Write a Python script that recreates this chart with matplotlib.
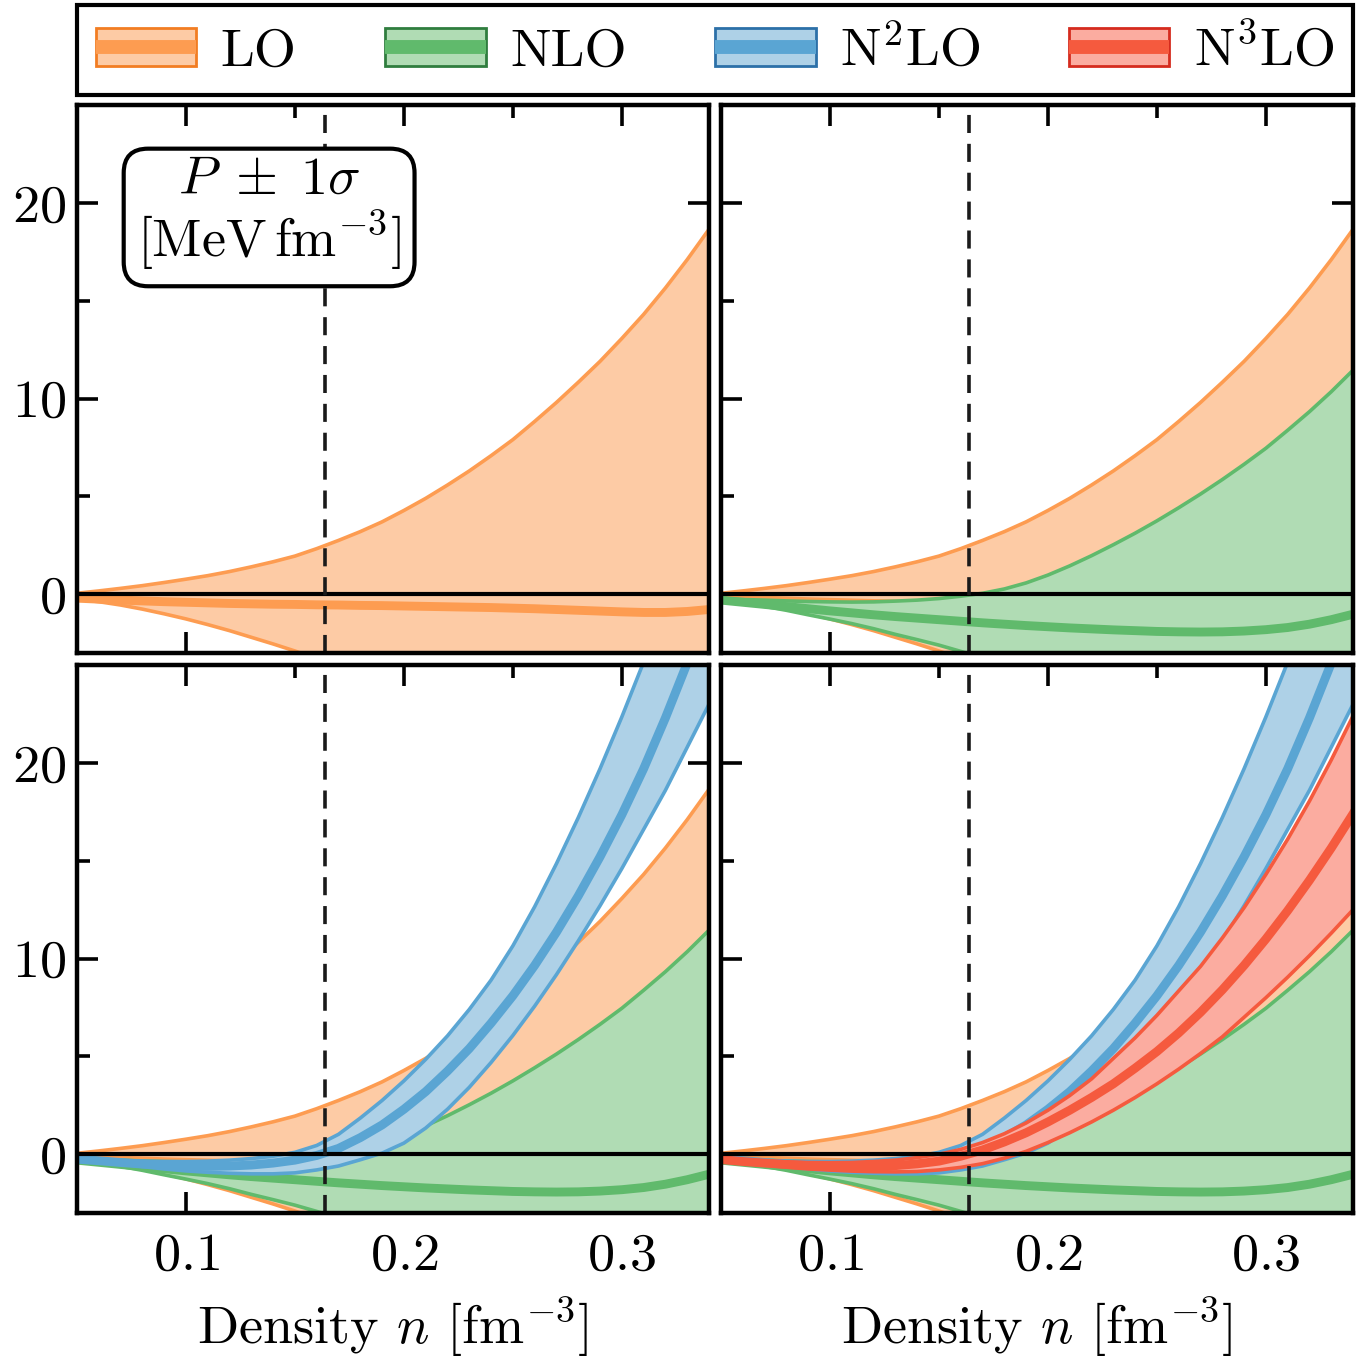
import numpy as np
import matplotlib
matplotlib.use("Agg")
import matplotlib.pyplot as plt
from matplotlib.patches import Patch
from matplotlib.lines import Line2D
from matplotlib.ticker import MultipleLocator

plt.rcParams.update({
    "font.family": "serif",
    "font.serif": ["cmr10"],
    "mathtext.fontset": "cm",
    "axes.formatter.use_mathtext": True,
    "axes.unicode_minus": False,
    "font.size": 19.5,
})

# densities [fm^-3] and pressure bands [MeV fm^-3]
density = [0.05, 0.06, 0.07, 0.08, 0.09, 0.10, 0.11, 0.12, 0.13, 0.14, 0.15,
           0.16, 0.17, 0.18, 0.19, 0.20, 0.21, 0.22, 0.23, 0.24, 0.25,
           0.26, 0.27, 0.28, 0.29, 0.30, 0.31, 0.32, 0.33, 0.34, 0.35]

lo_lower = [-0.25, -0.38, -0.55, -0.76, -1.0, -1.26, -1.55, -1.86, -2.2, -2.54, -2.9,
            -3.29, -3.7, -4.14, -4.6, -5.09, -5.6, -6.14, -6.7, -7.29, -7.9,
            -8.54, -9.2, -9.89, -10.6, -11.34, -12.1, -12.89, -13.7, -14.54, -15.4]
lo_center = [-0.2, -0.25, -0.3, -0.34, -0.38, -0.41, -0.44, -0.47, -0.49, -0.51, -0.52,
             -0.54, -0.55, -0.57, -0.58, -0.6, -0.62, -0.64, -0.66, -0.68, -0.71,
             -0.74, -0.78, -0.82, -0.86, -0.9, -0.93, -0.93, -0.88, -0.78, -0.65]
lo_upper = [0.05, 0.17, 0.3, 0.44, 0.6, 0.77, 0.95, 1.16, 1.4, 1.66, 1.95,
            2.33, 2.75, 3.2, 3.7, 4.28, 4.9, 5.58, 6.3, 7.08, 7.9,
            8.83, 9.8, 10.83, 11.9, 13.07, 14.3, 15.65, 17.1, 18.65, 20.3]

nlo_lower = [-0.3, -0.45, -0.62, -0.82, -1.05, -1.27, -1.5, -1.76, -2.05, -2.32, -2.6,
             -2.92, -3.25, -3.6, -3.95, -4.32, -4.7, -5.1, -5.5, -5.95, -6.4,
             -6.85, -7.3, -7.8, -8.3, -8.85, -9.4, -10.0, -10.6, -11.3, -12.0]
nlo_center = [-0.3, -0.41, -0.52, -0.63, -0.74, -0.85, -0.95, -1.05, -1.14, -1.22, -1.3,
              -1.38, -1.46, -1.53, -1.6, -1.66, -1.72, -1.77, -1.82, -1.86, -1.9,
              -1.92, -1.93, -1.92, -1.88, -1.81, -1.7, -1.53, -1.3, -1.02, -0.7]
nlo_upper = [-0.24, -0.27, -0.3, -0.34, -0.37, -0.39, -0.4, -0.39, -0.35, -0.3, -0.22,
             -0.1, 0.05, 0.27, 0.58, 0.98, 1.45, 1.97, 2.53, 3.12, 3.75,
             4.42, 5.12, 5.86, 6.64, 7.46, 8.38, 9.33, 10.35, 11.45, 12.6]

n2lo_lower = [-0.25, -0.37, -0.5, -0.63, -0.75, -0.85, -0.92, -0.97, -1.0, -1.0, -0.95,
              -0.8, -0.6, -0.28, 0.06, 0.57, 1.34, 2.3, 3.42, 4.69, 6.07,
              7.57, 9.18, 10.9, 12.7, 14.6, 16.6, 18.6, 20.8, 23.0, 25.3]
n2lo_center = [-0.25, -0.33, -0.42, -0.5, -0.56, -0.6, -0.62, -0.6, -0.55, -0.45, -0.3,
               -0.06, 0.3, 0.85, 1.5, 2.3, 3.2, 4.25, 5.4, 6.7, 8.1,
               9.65, 11.35, 13.2, 15.2, 17.35, 19.7, 22.3, 25.1, 28.0, 31.0]
n2lo_upper = [-0.23, -0.28, -0.32, -0.35, -0.37, -0.37, -0.35, -0.3, -0.22, -0.1, 0.1,
              0.45, 1.02, 1.85, 2.75, 3.75, 4.85, 6.05, 7.4, 8.9, 10.65,
              12.65, 14.85, 17.2, 19.7, 22.35, 25.15, 28.1, 31.2, 34.4, 37.7]

n3lo_lower = [-0.27, -0.42, -0.55, -0.66, -0.75, -0.81, -0.86, -0.89, -0.9, -0.88, -0.8,
              -0.67, -0.48, -0.2, 0.15, 0.6, 1.1, 1.65, 2.25, 2.9, 3.6,
              4.35, 5.15, 6.0, 7.0, 8.0, 9.05, 10.15, 11.3, 12.5, 13.75]
n3lo_center = [-0.27, -0.37, -0.45, -0.52, -0.58, -0.62, -0.64, -0.63, -0.58, -0.49, -0.35,
               -0.1, 0.22, 0.63, 1.1, 1.65, 2.25, 2.9, 3.6, 4.4, 5.25,
               6.2, 7.25, 8.4, 9.65, 11.0, 12.45, 14.0, 15.65, 17.4, 19.25]
n3lo_upper = [-0.25, -0.3, -0.35, -0.39, -0.42, -0.43, -0.42, -0.37, -0.3, -0.17, 0.0,
              0.25, 0.6, 1.05, 1.6, 2.25, 3.0, 3.85, 4.9, 5.95, 7.1,
              8.35, 9.6, 11.05, 12.6, 14.3, 16.1, 18.05, 20.15, 22.4, 24.8]

labels = ["LO", "NLO", r"N$^2$LO", r"N$^3$LO"]
bands = [(lo_lower, lo_center, lo_upper),
         (nlo_lower, nlo_center, nlo_upper),
         (n2lo_lower, n2lo_center, n2lo_upper),
         (n3lo_lower, n3lo_center, n3lo_upper)]
n_sat = 0.164

light = ["#fdcba5", "#b0dcb4", "#aed1e7", "#fbaca0"]
mid = ["#fd9c51", "#60ba6c", "#5aa5d3", "#f55a3e"]
dark = ["#f27d22", "#2f7d3e", "#2c70a8", "#d52b1e"]

fig, axes = plt.subplots(2, 2, figsize=(6.8, 6.8), dpi=200, sharex=True, sharey=True)
fig.subplots_adjust(left=0.0566, right=0.9949, top=0.9228, bottom=0.1081,
                    wspace=0.019, hspace=0.022)

x = np.array(density)
for k, ax in enumerate(axes.flat):
    # panel k shows the orders up to k
    for i in range(k + 1):
        lower, center, upper = bands[i]
        ax.fill_between(x, lower, upper, color=light[i], lw=0, zorder=2 + i)
        ax.plot(x, lower, color=mid[i], lw=1.3, zorder=2 + i)
        ax.plot(x, upper, color=mid[i], lw=1.3, zorder=2 + i)
        ax.plot(x, center, color=mid[i], lw=3.2, zorder=2 + i)
    ax.axhline(0, color="k", lw=1.5, zorder=10)
    ax.axvline(n_sat, color="#1a1a1a", lw=1.3, ls=(0, (5, 3)), zorder=11)

    ax.set_xlim(0.05, 0.34)
    ax.set_ylim(-3, 25)
    ax.xaxis.set_major_locator(MultipleLocator(0.1))
    ax.xaxis.set_minor_locator(MultipleLocator(0.05))
    ax.yaxis.set_major_locator(MultipleLocator(10))
    ax.yaxis.set_minor_locator(MultipleLocator(5))
    ax.tick_params(which="both", direction="in", top=True, right=True, width=1.3)
    ax.tick_params(which="major", length=7.5)
    ax.tick_params(which="minor", length=4.5)
    ax.tick_params(axis="x", pad=7)
    ax.tick_params(axis="y", pad=4)
    for s in ax.spines.values():
        s.set_linewidth(1.6)
        s.set_zorder(20)
    ax.label_outer()

for ax in axes[1]:
    ax.set_xlabel(r"Density $n$ $[\mathrm{fm}^{-3}]$", labelpad=6)

axes[0, 0].text(0.304, 0.80, "$P \\;\\pm\\; 1\\sigma$\n$[\\mathrm{MeV\\,fm}^{-3}]$",
                transform=axes[0, 0].transAxes, ha="center", va="center",
                multialignment="center", linespacing=1.1, zorder=30,
                bbox=dict(boxstyle="round,pad=0.25,rounding_size=0.45",
                          fc="white", ec="k", lw=1.5))

handles = []
for i in range(4):
    handles.append((Patch(facecolor=light[i], edgecolor=dark[i], lw=1.0),
                    Line2D([], [], color=mid[i], lw=5, solid_capstyle="butt")))
leg = fig.legend(handles, labels, loc="upper left", ncol=4, mode="expand",
                 bbox_to_anchor=(0.0566, 0.9963, 0.9383, 0.0), borderaxespad=0,
                 fancybox=False, edgecolor="k", framealpha=1,
                 handlelength=1.85, handletextpad=0.45, borderpad=0.35)
leg.get_frame().set_linewidth(1.5)

fig.savefig("out.png", dpi=200)
